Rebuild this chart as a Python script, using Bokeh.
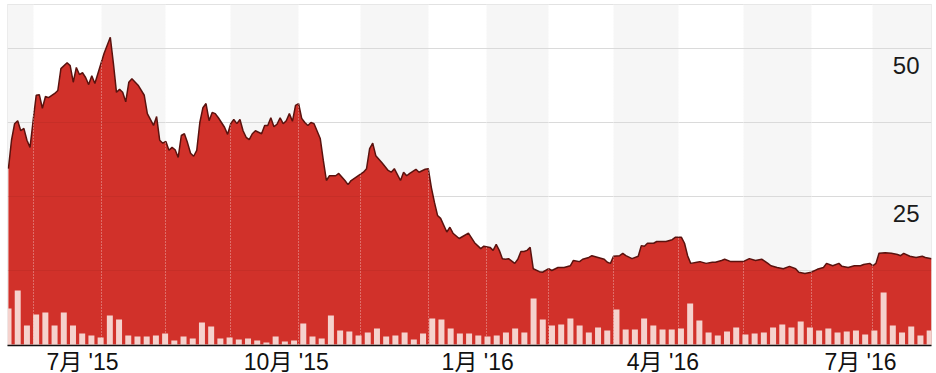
from bokeh.plotting import figure
from bokeh.models import Range1d, FixedTicker, ColumnDataSource
from bokeh.embed import file_html
from bokeh.resources import INLINE
from bokeh.core.properties import value

# ---------------- data ----------------
# trading days per month shown (Jun 2015 partial ... Aug 2016 partial)
month_names = ["6月 '15", "7月 '15", "8月 '15", "9月 '15", "10月 '15", "11月 '15",
               "12月 '15", "1月 '16", "2月 '16", "3月 '16", "4月 '16", "5月 '16",
               "6月 '16", "7月 '16", "8月 '16"]
month_days = [8, 22, 21, 21, 22, 20, 22, 19, 20, 21, 21, 21, 22, 20, 20]
axis_labels = ["7月 '15", "10月 '15", "1月 '16", "4月 '16", "7月 '16"]

# closing price by trading-day index
price_day = [0, 1, 2, 3, 4, 5, 6, 7, 8, 9,
             10, 11, 12, 13, 15, 16, 17, 19, 20, 21,
             22, 23, 24, 25, 26, 27, 28, 30, 31, 33,
             34, 35, 36, 37, 38, 39, 40, 42, 44, 45,
             47, 48, 49, 50, 51, 52, 53, 54, 55, 56,
             57, 58, 59, 60, 61, 62, 63, 64, 65, 66,
             67, 68, 70, 71, 72, 73, 74, 75, 76, 77,
             78, 79, 80, 82, 83, 84, 85, 86, 87, 88,
             89, 90, 91, 92, 93, 94, 95, 96, 97, 98,
             99, 101, 102, 103, 104, 106, 107, 109, 110, 111,
             113, 115, 116, 117, 118, 119, 121, 123, 124, 125,
             127, 128, 129, 130, 132, 133, 135, 136, 137, 138,
             139, 140, 142, 143, 144, 146, 147, 149, 151, 153,
             154, 156, 157, 158, 159, 160, 161, 162, 164, 165,
             166, 167, 168, 169, 170, 172, 173, 175, 176, 178,
             180, 182, 183, 185, 186, 188, 189, 191, 193, 194,
             195, 196, 198, 199, 200, 202, 204, 205, 206, 207,
             209, 210, 212, 213, 215, 216, 218, 219, 220, 221,
             223, 224, 226, 228, 229, 231, 232, 234, 236, 238,
             240, 242, 244, 246, 247, 249, 251, 253, 255, 256,
             258, 260, 262, 264, 265, 267, 269, 270, 272, 274,
             276, 277, 279, 280, 281, 282, 284, 286, 288, 289,
             290, 292, 294, 296, 297, 299]
price = [29.7, 34.5, 37.3, 37.8, 36.1, 36.5, 34.5, 33.3, 37.8, 42.1,
         42.2, 39.9, 41.9, 41.7, 42.4, 42.9, 46.6, 47.6, 47.1, 44.3,
         46.8, 45.6, 45.9, 45.1, 43.9, 45.4, 44.1, 47.5, 49.2, 51.9,
         47.5, 42.6, 43.1, 42.6, 41.0, 44.3, 44.9, 43.8, 42.1, 39.0,
         37.0, 38.5, 34.5, 34.0, 34.3, 32.8, 33.3, 32.9, 31.6, 35.3,
         35.6, 34.1, 32.3, 31.8, 32.8, 37.5, 40.0, 40.7, 37.8, 39.2,
         39.0, 38.3, 36.7, 35.5, 37.3, 38.0, 37.3, 38.0, 36.1, 35.0,
         34.6, 35.6, 36.1, 35.6, 37.0, 37.0, 38.3, 36.8, 37.2, 38.3,
         37.3, 37.8, 39.0, 37.7, 40.4, 40.7, 38.2, 37.5, 37.0, 37.5,
         37.3, 34.8, 31.1, 27.7, 28.5, 28.5, 28.9, 27.7, 27.0, 27.7,
         28.4, 29.1, 29.7, 33.1, 34.0, 31.9, 30.7, 29.4, 29.1, 29.7,
         27.7, 29.1, 28.5, 28.9, 29.6, 29.1, 29.6, 29.7, 26.5, 24.0,
         21.8, 21.3, 19.0, 19.8, 18.8, 17.9, 18.2, 18.8, 17.2, 16.2,
         16.6, 16.4, 15.9, 16.9, 15.9, 14.5, 14.4, 14.5, 13.7, 14.4,
         15.7, 15.7, 15.9, 16.4, 12.8, 12.3, 12.2, 12.8, 12.5, 13.0,
         13.0, 13.3, 14.2, 14.0, 14.4, 14.7, 15.0, 14.7, 14.4, 13.9,
         13.7, 14.9, 15.0, 15.4, 15.0, 14.5, 14.9, 16.7, 16.6, 17.1,
         17.1, 17.4, 17.4, 17.4, 17.7, 18.1, 18.1, 17.1, 15.0, 13.7,
         13.9, 14.0, 13.7, 13.9, 13.9, 14.2, 14.4, 14.0, 14.0, 14.0,
         14.5, 14.2, 14.4, 13.7, 13.3, 13.0, 12.8, 13.2, 12.8, 12.2,
         12.0, 12.2, 12.7, 13.0, 13.7, 13.3, 13.7, 13.2, 13.0, 13.3,
         13.3, 13.5, 13.7, 13.3, 13.7, 15.4, 15.5, 15.4, 15.2, 15.0,
         15.4, 14.9, 14.7, 14.9, 14.7, 14.5]

# relative trading volume, one bar per ~3 trading days
volume = [37, 55, 20, 31, 33, 20, 33, 20, 12, 10,
          8, 30, 26, 10, 9, 9, 10, 12, 5, 9,
          7, 23, 19, 7, 8, 6, 7, 5, 3, 9,
          4, 5, 22, 9, 7, 30, 15, 14, 10, 13,
          17, 9, 10, 13, 6, 12, 27, 26, 17, 12,
          12, 10, 9, 10, 13, 17, 13, 47, 26, 20,
          21, 27, 20, 13, 18, 15, 36, 16, 16, 27,
          20, 16, 16, 17, 42, 25, 13, 10, 14, 18,
          11, 12, 13, 18, 21, 18, 24, 18, 15, 17,
          13, 14, 15, 11, 15, 53, 20, 13, 19, 10,
          15]

price_labels = [50, 25]
grid_values = [12.5, 25, 37.5, 50]

# ---------------- derived ----------------
month_start = []
acc = 0
for d in month_days:
    month_start.append(acc)
    acc += d
month_end = month_start[1:] + [acc]

X0, X1 = -0.3, 299.0
Y0, Y1 = -0.17, 57.43
FRAME_W, FRAME_H = 924, 341
px_per_day = FRAME_W / (X1 - X0)

FONT = "'Liberation Sans', 'Noto Sans CJK SC', sans-serif"
FS = 23


def est_width(s):
    w = 0.0
    for c in s:
        if ord(c) > 255:
            w += FS
        elif c == " ":
            w += 0.278 * FS
        elif c == "'":
            w += 0.191 * FS
        else:
            w += 0.556 * FS
    return w


ticks = []
overrides = {}
for lab in axis_labels:
    m = month_names.index(lab)
    t = int(round(month_start[m] + (12 + est_width(lab) / 2) / px_per_day))
    ticks.append(t)
    overrides[t] = lab

p = figure(frame_width=FRAME_W, frame_height=FRAME_H,
           x_range=Range1d(X0, X1), y_range=Range1d(Y0, Y1),
           output_backend="svg", toolbar_location=None,
           y_axis_location=None, tools="")
p.min_border_left = 7
p.min_border_right = 5
p.min_border_top = 4
p.min_border_bottom = 28
p.background_fill_color = "white"
p.border_fill_color = "white"
p.outline_line_color = "#e2e2e2"
p.xgrid.visible = False
p.ygrid.visible = False

p.extra_x_ranges = {"vol": Range1d(-0.11, 100.2)}
p.extra_y_ranges = {"vol": Range1d(0, 341)}

# alternating month bands
band_x0 = [month_start[i] if i else X0 - 1 for i in range(0, len(month_start), 2)]
band_x1 = [month_end[i] for i in range(0, len(month_start), 2)]
p.vstrip(x0=band_x0, x1=band_x1, fill_color="#f6f6f6", line_color=None)

# horizontal grid
p.hspan(y=grid_values, line_color="#e6e6e6", line_width=1)

# price area + line
src = ColumnDataSource(dict(x=price_day, y=price))
p.varea(x="x", y1=0, y2="y", source=src, fill_color="#d1312a")
p.hspan(y=grid_values, line_color="black", line_alpha=0.05, line_width=1)
p.line(x="x", y="y", source=src, line_color="#5a120e", line_width=1.5)

# month separators
p.vspan(x=month_start[1:], line_color="white", line_alpha=0.6,
        line_dash="1 2", line_width=1)

# volume bars
vsrc = ColumnDataSource(dict(i=list(range(len(volume))), v=volume))
p.vbar(x="i", top="v", bottom=0, width=0.65, source=vsrc,
       x_range_name="vol", y_range_name="vol",
       fill_color="#f5d2cd", line_color=None)

# price labels inside the plot (right side)
lsrc = ColumnDataSource(dict(x=[X1] * len(price_labels), y=price_labels,
                             t=[str(v) for v in price_labels]))
p.text(x="x", y="y", text="t", source=lsrc, text_align="right",
       text_baseline="top", x_offset=-12, y_offset=9,
       text_font=value(FONT), text_font_size="24px", text_color="#1a1a1a")

# x axis
ax = p.xaxis[0]
ax.ticker = FixedTicker(ticks=ticks)
ax.major_label_overrides = overrides
ax.major_tick_line_color = None
ax.minor_tick_line_color = None
ax.major_tick_out = 0
ax.major_tick_in = 0
ax.axis_line_color = "#111111"
ax.axis_line_width = 1.5
ax.major_label_standoff = 3
ax.major_label_text_font = FONT
ax.major_label_text_font_size = f"{FS}px"
ax.major_label_text_color = "#111111"

open("out.html", "w").write(file_html(p, INLINE))
